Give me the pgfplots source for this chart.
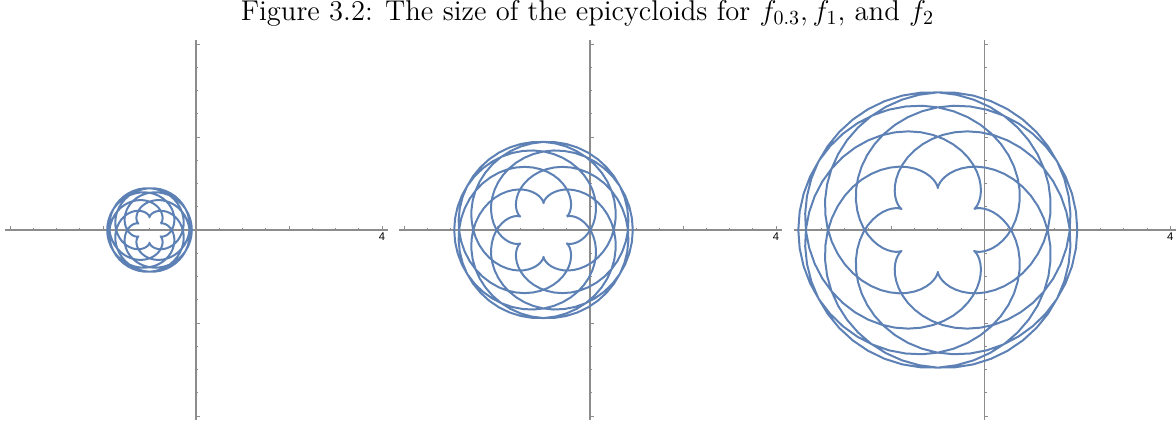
\documentclass[border=0pt]{standalone}
\usepackage{fontspec}
\setsansfont{Liberation Sans}
\usepackage{pgfplots}
\pgfplotsset{compat=1.18}
\usepackage{pgfplotstable}
\usepgfplotslibrary{polar}

\definecolor{curveblue}{RGB}{94,129,181}
\definecolor{axisgray}{RGB}{140,140,140}

% Epicycloid with six cusps (fixed/rolling radius 6/7), polar form:
% a = polar angle in degrees, r = radius (largest radius = 1).
\pgfplotstableread[row sep=\\]{
a r\\
30.00 0.3000\\ 30.05 0.3029\\ 30.41 0.3113\\ 31.31 0.3248\\ 32.89 0.3427\\ 35.20 0.3642\\
38.23 0.3885\\ 41.91 0.4151\\ 46.16 0.4432\\ 50.91 0.4725\\ 56.09 0.5025\\ 61.62 0.5329\\
67.46 0.5635\\ 73.55 0.5939\\ 79.86 0.6240\\ 86.35 0.6536\\ 93.01 0.6826\\ 99.80 0.7109\\
106.70 0.7382\\ 113.70 0.7646\\ 120.80 0.7900\\ 127.96 0.8141\\ 135.20 0.8370\\ 142.49 0.8587\\
149.83 0.8789\\ 157.21 0.8978\\ 164.63 0.9151\\ 172.08 0.9310\\ 179.56 0.9453\\ 187.07 0.9580\\
194.60 0.9690\\ 202.14 0.9785\\ 209.70 0.9862\\ 217.26 0.9922\\ 224.84 0.9965\\ 232.42 0.9991\\
240.00 1.0000\\ 247.58 0.9991\\ 255.16 0.9965\\ 262.74 0.9922\\ 270.30 0.9862\\ 277.86 0.9785\\
285.40 0.9690\\ 292.93 0.9580\\ 300.44 0.9453\\ 307.92 0.9310\\ 315.37 0.9151\\ 322.79 0.8978\\
330.17 0.8789\\ 337.51 0.8587\\ 344.80 0.8370\\ 352.04 0.8141\\ 359.20 0.7900\\ 366.30 0.7646\\
373.30 0.7382\\ 380.20 0.7109\\ 386.99 0.6826\\ 393.65 0.6536\\ 400.14 0.6240\\ 406.45 0.5939\\
412.54 0.5635\\ 418.38 0.5329\\ 423.91 0.5025\\ 429.09 0.4725\\ 433.84 0.4432\\ 438.09 0.4151\\
441.77 0.3885\\ 444.80 0.3642\\ 447.11 0.3427\\ 448.69 0.3248\\ 449.59 0.3113\\ 449.95 0.3029\\
450.00 0.3000\\
90.05 0.3029\\ 90.41 0.3113\\ 91.31 0.3248\\ 92.89 0.3427\\ 95.20 0.3642\\ 98.23 0.3885\\
101.91 0.4151\\ 106.16 0.4432\\ 110.91 0.4725\\ 116.09 0.5025\\ 121.62 0.5329\\ 127.46 0.5635\\
133.55 0.5939\\ 139.86 0.6240\\ 146.35 0.6536\\ 153.01 0.6826\\ 159.80 0.7109\\ 166.70 0.7382\\
173.70 0.7646\\ 180.80 0.7900\\ 187.96 0.8141\\ 195.20 0.8370\\ 202.49 0.8587\\ 209.83 0.8789\\
217.21 0.8978\\ 224.63 0.9151\\ 232.08 0.9310\\ 239.56 0.9453\\ 247.07 0.9580\\ 254.60 0.9690\\
262.14 0.9785\\ 269.70 0.9862\\ 277.26 0.9922\\ 284.84 0.9965\\ 292.42 0.9991\\ 300.00 1.0000\\
307.58 0.9991\\ 315.16 0.9965\\ 322.74 0.9922\\ 330.30 0.9862\\ 337.86 0.9785\\ 345.40 0.9690\\
352.93 0.9580\\ 360.44 0.9453\\ 367.92 0.9310\\ 375.37 0.9151\\ 382.79 0.8978\\ 390.17 0.8789\\
397.51 0.8587\\ 404.80 0.8370\\ 412.04 0.8141\\ 419.20 0.7900\\ 426.30 0.7646\\ 433.30 0.7382\\
440.20 0.7109\\ 446.99 0.6826\\ 453.65 0.6536\\ 460.14 0.6240\\ 466.45 0.5939\\ 472.54 0.5635\\
478.38 0.5329\\ 483.91 0.5025\\ 489.09 0.4725\\ 493.84 0.4432\\ 498.09 0.4151\\ 501.77 0.3885\\
504.80 0.3642\\ 507.11 0.3427\\ 508.69 0.3248\\ 509.59 0.3113\\ 509.95 0.3029\\ 510.00 0.3000\\
150.05 0.3029\\ 150.41 0.3113\\ 151.31 0.3248\\ 152.89 0.3427\\ 155.20 0.3642\\ 158.23 0.3885\\
161.91 0.4151\\ 166.16 0.4432\\ 170.91 0.4725\\ 176.09 0.5025\\ 181.62 0.5329\\ 187.46 0.5635\\
193.55 0.5939\\ 199.86 0.6240\\ 206.35 0.6536\\ 213.01 0.6826\\ 219.80 0.7109\\ 226.70 0.7382\\
233.70 0.7646\\ 240.80 0.7900\\ 247.96 0.8141\\ 255.20 0.8370\\ 262.49 0.8587\\ 269.83 0.8789\\
277.21 0.8978\\ 284.63 0.9151\\ 292.08 0.9310\\ 299.56 0.9453\\ 307.07 0.9580\\ 314.60 0.9690\\
322.14 0.9785\\ 329.70 0.9862\\ 337.26 0.9922\\ 344.84 0.9965\\ 352.42 0.9991\\ 360.00 1.0000\\
367.58 0.9991\\ 375.16 0.9965\\ 382.74 0.9922\\ 390.30 0.9862\\ 397.86 0.9785\\ 405.40 0.9690\\
412.93 0.9580\\ 420.44 0.9453\\ 427.92 0.9310\\ 435.37 0.9151\\ 442.79 0.8978\\ 450.17 0.8789\\
457.51 0.8587\\ 464.80 0.8370\\ 472.04 0.8141\\ 479.20 0.7900\\ 486.30 0.7646\\ 493.30 0.7382\\
500.20 0.7109\\ 506.99 0.6826\\ 513.65 0.6536\\ 520.14 0.6240\\ 526.45 0.5939\\ 532.54 0.5635\\
538.38 0.5329\\ 543.91 0.5025\\ 549.09 0.4725\\ 553.84 0.4432\\ 558.09 0.4151\\ 561.77 0.3885\\
564.80 0.3642\\ 567.11 0.3427\\ 568.69 0.3248\\ 569.59 0.3113\\ 569.95 0.3029\\ 570.00 0.3000\\
210.05 0.3029\\ 210.41 0.3113\\ 211.31 0.3248\\ 212.89 0.3427\\ 215.20 0.3642\\ 218.23 0.3885\\
221.91 0.4151\\ 226.16 0.4432\\ 230.91 0.4725\\ 236.09 0.5025\\ 241.62 0.5329\\ 247.46 0.5635\\
253.55 0.5939\\ 259.86 0.6240\\ 266.35 0.6536\\ 273.01 0.6826\\ 279.80 0.7109\\ 286.70 0.7382\\
293.70 0.7646\\ 300.80 0.7900\\ 307.96 0.8141\\ 315.20 0.8370\\ 322.49 0.8587\\ 329.83 0.8789\\
337.21 0.8978\\ 344.63 0.9151\\ 352.08 0.9310\\ 359.56 0.9453\\ 367.07 0.9580\\ 374.60 0.9690\\
382.14 0.9785\\ 389.70 0.9862\\ 397.26 0.9922\\ 404.84 0.9965\\ 412.42 0.9991\\ 420.00 1.0000\\
427.58 0.9991\\ 435.16 0.9965\\ 442.74 0.9922\\ 450.30 0.9862\\ 457.86 0.9785\\ 465.40 0.9690\\
472.93 0.9580\\ 480.44 0.9453\\ 487.92 0.9310\\ 495.37 0.9151\\ 502.79 0.8978\\ 510.17 0.8789\\
517.51 0.8587\\ 524.80 0.8370\\ 532.04 0.8141\\ 539.20 0.7900\\ 546.30 0.7646\\ 553.30 0.7382\\
560.20 0.7109\\ 566.99 0.6826\\ 573.65 0.6536\\ 580.14 0.6240\\ 586.45 0.5939\\ 592.54 0.5635\\
598.38 0.5329\\ 603.91 0.5025\\ 609.09 0.4725\\ 613.84 0.4432\\ 618.09 0.4151\\ 621.77 0.3885\\
624.80 0.3642\\ 627.11 0.3427\\ 628.69 0.3248\\ 629.59 0.3113\\ 629.95 0.3029\\ 630.00 0.3000\\
270.05 0.3029\\ 270.41 0.3113\\ 271.31 0.3248\\ 272.89 0.3427\\ 275.20 0.3642\\ 278.23 0.3885\\
281.91 0.4151\\ 286.16 0.4432\\ 290.91 0.4725\\ 296.09 0.5025\\ 301.62 0.5329\\ 307.46 0.5635\\
313.55 0.5939\\ 319.86 0.6240\\ 326.35 0.6536\\ 333.01 0.6826\\ 339.80 0.7109\\ 346.70 0.7382\\
353.70 0.7646\\ 360.80 0.7900\\ 367.96 0.8141\\ 375.20 0.8370\\ 382.49 0.8587\\ 389.83 0.8789\\
397.21 0.8978\\ 404.63 0.9151\\ 412.08 0.9310\\ 419.56 0.9453\\ 427.07 0.9580\\ 434.60 0.9690\\
442.14 0.9785\\ 449.70 0.9862\\ 457.26 0.9922\\ 464.84 0.9965\\ 472.42 0.9991\\ 480.00 1.0000\\
487.58 0.9991\\ 495.16 0.9965\\ 502.74 0.9922\\ 510.30 0.9862\\ 517.86 0.9785\\ 525.40 0.9690\\
532.93 0.9580\\ 540.44 0.9453\\ 547.92 0.9310\\ 555.37 0.9151\\ 562.79 0.8978\\ 570.17 0.8789\\
577.51 0.8587\\ 584.80 0.8370\\ 592.04 0.8141\\ 599.20 0.7900\\ 606.30 0.7646\\ 613.30 0.7382\\
620.20 0.7109\\ 626.99 0.6826\\ 633.65 0.6536\\ 640.14 0.6240\\ 646.45 0.5939\\ 652.54 0.5635\\
658.38 0.5329\\ 663.91 0.5025\\ 669.09 0.4725\\ 673.84 0.4432\\ 678.09 0.4151\\ 681.77 0.3885\\
684.80 0.3642\\ 687.11 0.3427\\ 688.69 0.3248\\ 689.59 0.3113\\ 689.95 0.3029\\ 690.00 0.3000\\
330.05 0.3029\\ 330.41 0.3113\\ 331.31 0.3248\\ 332.89 0.3427\\ 335.20 0.3642\\ 338.23 0.3885\\
341.91 0.4151\\ 346.16 0.4432\\ 350.91 0.4725\\ 356.09 0.5025\\ 361.62 0.5329\\ 367.46 0.5635\\
373.55 0.5939\\ 379.86 0.6240\\ 386.35 0.6536\\ 393.01 0.6826\\ 399.80 0.7109\\ 406.70 0.7382\\
413.70 0.7646\\ 420.80 0.7900\\ 427.96 0.8141\\ 435.20 0.8370\\ 442.49 0.8587\\ 449.83 0.8789\\
457.21 0.8978\\ 464.63 0.9151\\ 472.08 0.9310\\ 479.56 0.9453\\ 487.07 0.9580\\ 494.60 0.9690\\
502.14 0.9785\\ 509.70 0.9862\\ 517.26 0.9922\\ 524.84 0.9965\\ 532.42 0.9991\\ 540.00 1.0000\\
547.58 0.9991\\ 555.16 0.9965\\ 562.74 0.9922\\ 570.30 0.9862\\ 577.86 0.9785\\ 585.40 0.9690\\
592.93 0.9580\\ 600.44 0.9453\\ 607.92 0.9310\\ 615.37 0.9151\\ 622.79 0.8978\\ 630.17 0.8789\\
637.51 0.8587\\ 644.80 0.8370\\ 652.04 0.8141\\ 659.20 0.7900\\ 666.30 0.7646\\ 673.30 0.7382\\
680.20 0.7109\\ 686.99 0.6826\\ 693.65 0.6536\\ 700.14 0.6240\\ 706.45 0.5939\\ 712.54 0.5635\\
718.38 0.5329\\ 723.91 0.5025\\ 729.09 0.4725\\ 733.84 0.4432\\ 738.09 0.4151\\ 741.77 0.3885\\
744.80 0.3642\\ 747.11 0.3427\\ 748.69 0.3248\\ 749.59 0.3113\\ 749.95 0.3029\\ 750.00 0.3000\\
}\epicycloid

\pgfplotsset{
  frame/.style={
    anchor=origin,
    axis lines=middle,
    x=23.25pt, y=23.25pt,
    xmin=-4.1, xmax=4.12, ymin=-4.09, ymax=4.09,
    axis line style={-, draw=axisgray, line width=0.55pt},
    xtick={-4,-2,0,2,4}, ytick={-4,-2,0,2,4},
    xticklabels={,,,,\textsf{4}}, yticklabels={,,,,},
    minor x tick num=3, minor y tick num=3,
    tick align=inside,
    major tick length=2pt, minor tick length=1.2pt,
    tick style={draw=axisgray, line width=0.45pt},
    xticklabel style={font=\fontsize{5.6}{6}\selectfont, inner sep=1.3pt},
  },
  curve/.style={
    anchor=origin, hide axis, clip=false,
    x=#1, y=#1,
    xmin=-1.1, xmax=1.1, ymin=-1.1, ymax=1.1,
  },
  curveline/.style={curveblue, line width=1pt, line join=round, no markers, data cs=polar},
}

\begin{document}
\begin{tikzpicture}
\useasboundingbox (0,0) rectangle (588pt,213pt);

\node[anchor=base, font=\fontsize{14.3}{16}\selectfont] at (293.75pt,202.8pt)
  {Figure 3.2: The size of the epicycloids for $f_{0.3}, f_1$, and $f_2$};

% f_{0.3}
\begin{axis}[frame, at={(98pt,98pt)}]
\end{axis}
\begin{axis}[curve=21.16pt, at={(74.75pt,98pt)}]
\addplot[curveline] table[x=a, y=r]{\epicycloid};
\end{axis}

% f_1
\begin{axis}[frame, at={(295pt,98pt)}]
\end{axis}
\begin{axis}[curve=44.64pt, at={(271.75pt,98pt)}]
\addplot[curveline] table[x=a, y=r]{\epicycloid};
\end{axis}

% f_2
\begin{axis}[frame, at={(492.15pt,98pt)}]
\end{axis}
\begin{axis}[curve=69.75pt, at={(468.9pt,98pt)}]
\addplot[curveline] table[x=a, y=r]{\epicycloid};
\end{axis}
\end{tikzpicture}
\end{document}
